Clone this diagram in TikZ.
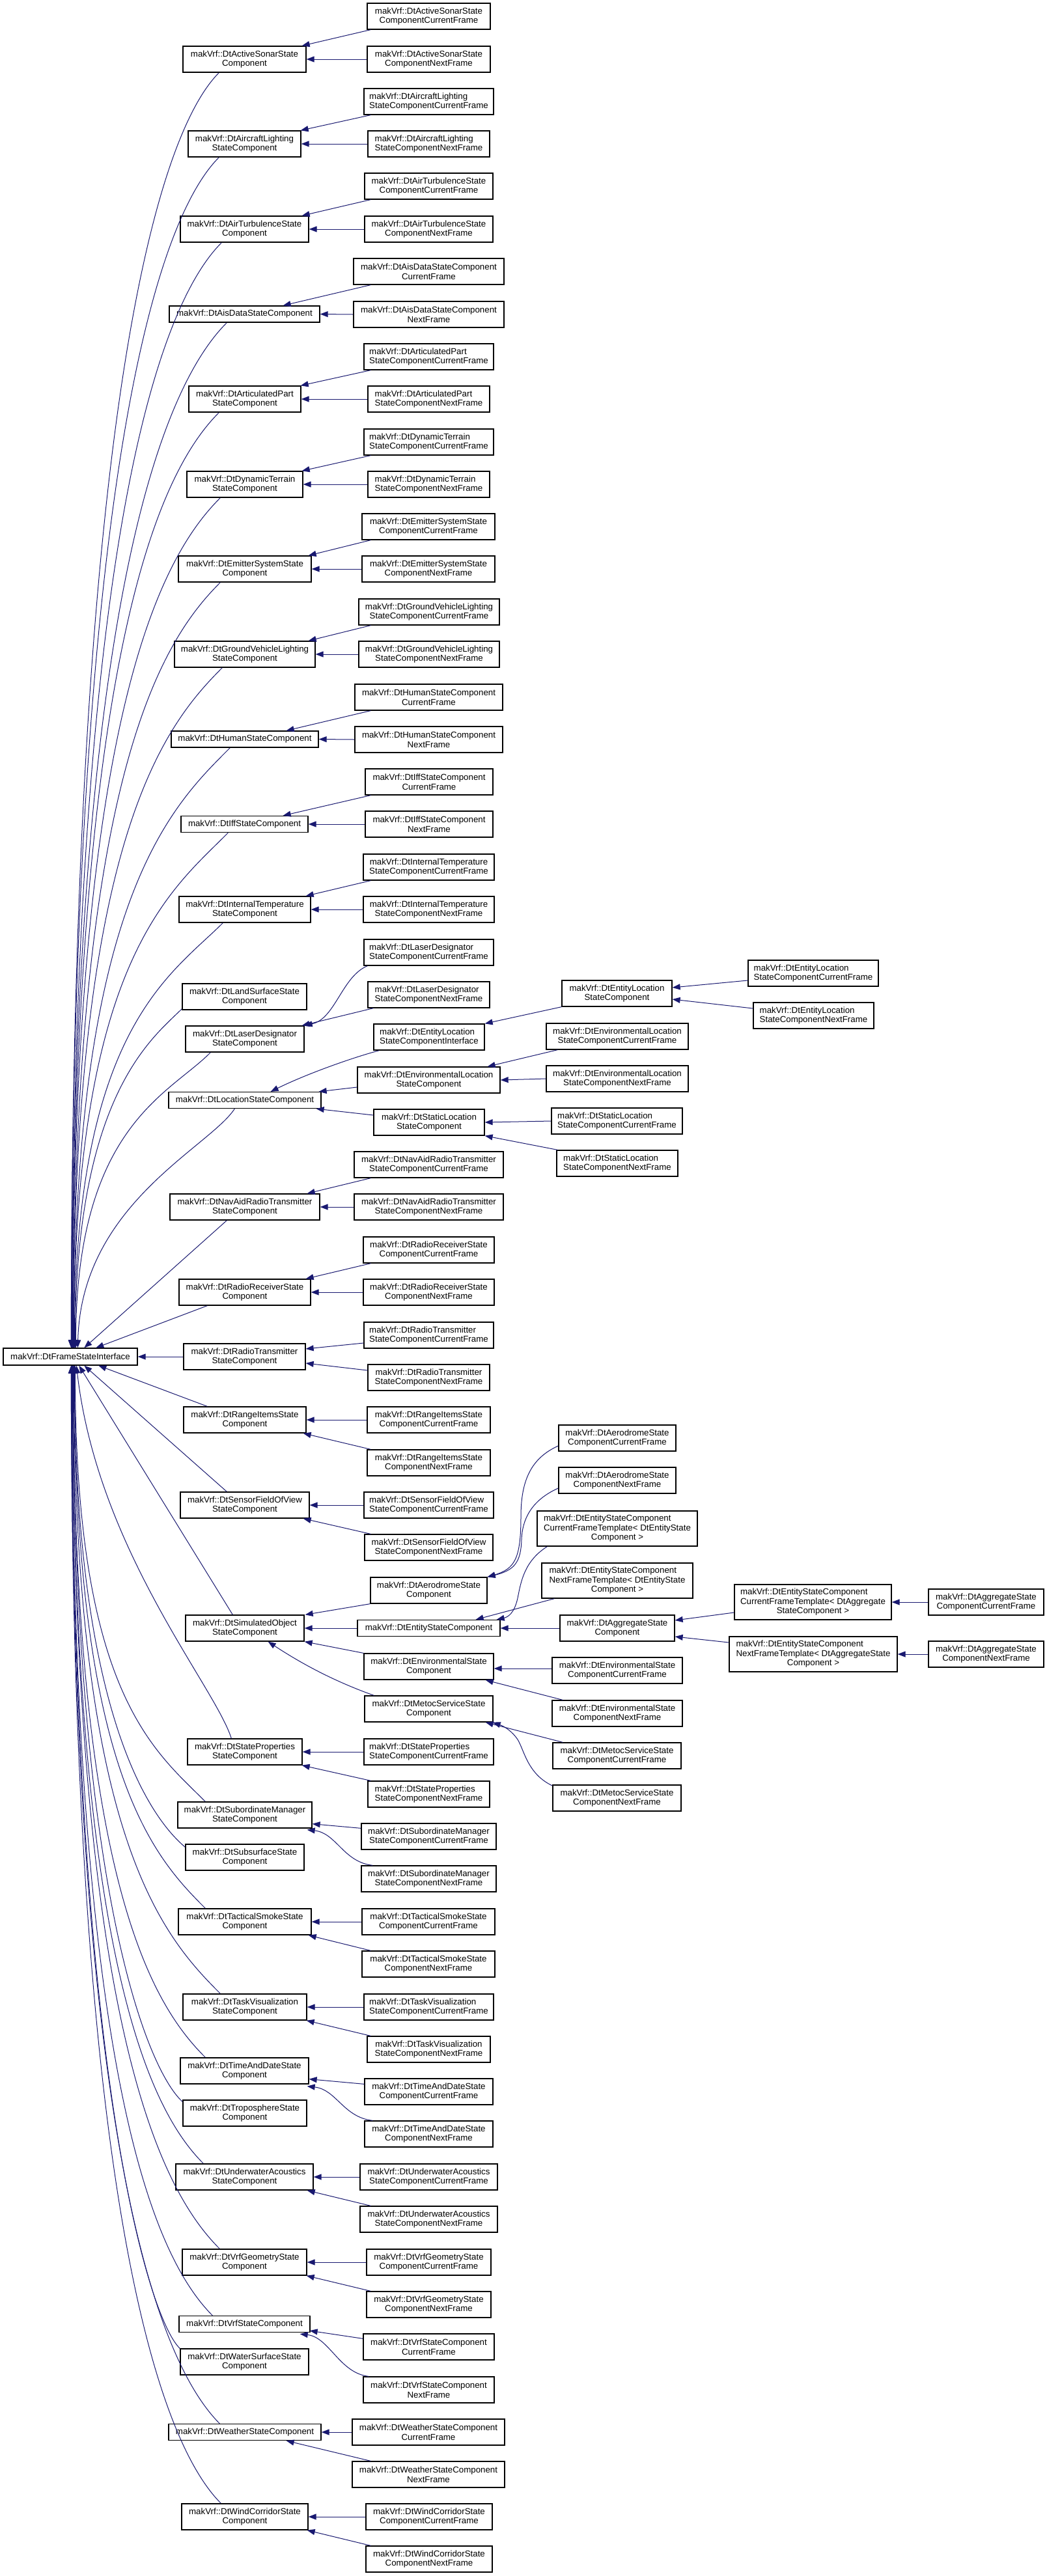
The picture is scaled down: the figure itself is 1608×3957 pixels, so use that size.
\documentclass[tikz,border=0pt]{standalone}
\usepackage{fontspec}
\setmainfont{Liberation Sans}
\usetikzlibrary{arrows.meta,calc}
\definecolor{dxnavy}{HTML}{191970}
\newcommand\mknode[6]{\pgfmathsetmacro\ndw{#3-#2}\pgfmathsetmacro\ndx{(#2+#3)/2}\node[box,minimum width=\ndw pt,minimum height=#5pt] (#1) at (\ndx,#4) {#6};}
\newcommand\lft[2]{\rlap{#1}\phantom{#2}\\#2}
\newcommand\eA[5]{\draw[edge] ([xshift=#4pt]#2.south west) -- ([xshift=#5pt]#1.north east);
 \draw[edge] (#3.west) -- (#1.east);}
\newcommand\eC[5]{\draw[edge] (#2.west) -- (#1.east);
 \draw[edge] ([xshift=#4pt]#3.north west) -- ([xshift=#5pt]#1.south east);}
\begin{document}
\begin{tikzpicture}[x=1pt,y=-1pt,
 box/.style={draw=black,line width=1.3pt,fill=white,align=center,inner sep=0pt,font=\fontsize{13.3}{14.5}\selectfont},
 edge/.style={draw=dxnavy,line width=1pt,-{Triangle[length=12pt,width=9pt,color=dxnavy]}}]
\useasboundingbox (0,0) rectangle (1608,3957);
% root
\mknode{R}{5}{211}{2084}{26}{makVrf::DtFrameStateInterface}
% column 1
\mknode{AS}{281}{470}{91}{40}{makVrf::DtActiveSonarState\\Component}
\mknode{AL}{289}{462}{221}{40}{makVrf::DtAircraftLighting\\StateComponent}
\mknode{AT}{277}{474}{352}{40}{makVrf::DtAirTurbulenceState\\Component}
\mknode{AD}{260}{491}{482.5}{25}{makVrf::DtAisDataStateComponent}
\mknode{AP}{290}{462}{613}{40}{makVrf::DtArticulatedPart\\StateComponent}
\mknode{DT}{287}{465}{744}{40}{makVrf::DtDynamicTerrain\\StateComponent}
\mknode{ES}{274}{478}{874}{40}{makVrf::DtEmitterSystemState\\Component}
\mknode{GV}{268}{484}{1005}{40}{makVrf::DtGroundVehicleLighting\\StateComponent}
\mknode{HU}{263}{489}{1135.5}{25}{makVrf::DtHumanStateComponent}
\mknode{IF}{278}{473}{1266}{25}{makVrf::DtIffStateComponent}
\mknode{IT}{275}{477}{1397}{40}{makVrf::DtInternalTemperature\\StateComponent}
\mknode{LS}{280}{471}{1531}{40}{makVrf::DtLandSurfaceState\\Component}
\mknode{LD}{285}{467}{1596}{40}{makVrf::DtLaserDesignator\\StateComponent}
\mknode{LO}{259}{493}{1690}{25}{makVrf::DtLocationStateComponent}
\mknode{NA}{261}{491}{1854}{40}{makVrf::DtNavAidRadioTransmitter\\StateComponent}
\mknode{RR}{275}{477}{1985}{40}{makVrf::DtRadioReceiverState\\Component}
\mknode{RT}{282}{469}{2084}{40}{makVrf::DtRadioTransmitter\\StateComponent}
\mknode{RI}{282}{470}{2181}{40}{makVrf::DtRangeItemsState\\Component}
\mknode{SF}{277}{475}{2312}{40}{makVrf::DtSensorFieldOfView\\StateComponent}
\mknode{SO}{285}{467}{2501}{40}{makVrf::DtSimulatedObject\\StateComponent}
\mknode{SP}{288}{464}{2691}{40}{makVrf::DtStateProperties\\StateComponent}
\mknode{SM}{273}{479}{2788}{40}{makVrf::DtSubordinateManager\\StateComponent}
\mknode{SS}{285}{467}{2853}{40}{makVrf::DtSubsurfaceState\\Component}
\mknode{TS}{274}{478}{2952}{40}{makVrf::DtTacticalSmokeState\\Component}
\mknode{TV}{281}{471}{3083}{40}{makVrf::DtTaskVisualization\\StateComponent}
\mknode{TD}{277}{474}{3181}{40}{makVrf::DtTimeAndDateState\\Component}
\mknode{TR}{281}{471}{3246}{40}{makVrf::DtTroposphereState\\Component}
\mknode{UA}{270}{481}{3344}{40}{makVrf::DtUnderwaterAcoustics\\StateComponent}
\mknode{VG}{280}{471}{3475}{40}{makVrf::DtVrfGeometryState\\Component}
\mknode{VS}{275}{476}{3570}{25}{makVrf::DtVrfStateComponent}
\mknode{WS}{277}{474}{3628}{40}{makVrf::DtWaterSurfaceState\\Component}
\mknode{WE}{259}{493}{3736}{25}{makVrf::DtWeatherStateComponent}
\mknode{WC}{279}{473}{3866}{40}{makVrf::DtWindCorridorState\\Component}
% column 2
\mknode{ASc}{564}{753}{25}{40}{makVrf::DtActiveSonarState\\ComponentCurrentFrame}
\mknode{ASn}{564}{753}{91}{40}{makVrf::DtActiveSonarState\\ComponentNextFrame}
\mknode{ALc}{559}{758}{156}{40}{\lft{makVrf::DtAircraftLighting}{StateComponentCurrentFrame}}
\mknode{ALn}{565}{752}{221}{40}{\lft{makVrf::DtAircraftLighting}{StateComponentNextFrame}}
\mknode{ATc}{560}{757}{286}{40}{makVrf::DtAirTurbulenceState\\ComponentCurrentFrame}
\mknode{ATn}{560}{757}{352}{40}{makVrf::DtAirTurbulenceState\\ComponentNextFrame}
\mknode{ADc}{543}{774}{417}{40}{makVrf::DtAisDataStateComponent\\CurrentFrame}
\mknode{ADn}{543}{774}{483}{40}{makVrf::DtAisDataStateComponent\\NextFrame}
\mknode{APc}{559}{758}{548}{40}{\lft{makVrf::DtArticulatedPart}{StateComponentCurrentFrame}}
\mknode{APn}{565}{752}{613}{40}{\lft{makVrf::DtArticulatedPart}{StateComponentNextFrame}}
\mknode{DTc}{559}{758}{679}{40}{\lft{makVrf::DtDynamicTerrain}{StateComponentCurrentFrame}}
\mknode{DTn}{565}{752}{744}{40}{\lft{makVrf::DtDynamicTerrain}{StateComponentNextFrame}}
\mknode{ESc}{556}{760}{809}{40}{makVrf::DtEmitterSystemState\\ComponentCurrentFrame}
\mknode{ESn}{556}{760}{874}{40}{makVrf::DtEmitterSystemState\\ComponentNextFrame}
\mknode{GVc}{551}{767}{940}{40}{makVrf::DtGroundVehicleLighting\\StateComponentCurrentFrame}
\mknode{GVn}{551}{767}{1005}{40}{makVrf::DtGroundVehicleLighting\\StateComponentNextFrame}
\mknode{HUc}{545}{772}{1071}{40}{makVrf::DtHumanStateComponent\\CurrentFrame}
\mknode{HUn}{545}{772}{1136}{40}{makVrf::DtHumanStateComponent\\NextFrame}
\mknode{IFc}{561}{757}{1201}{40}{makVrf::DtIffStateComponent\\CurrentFrame}
\mknode{IFn}{561}{757}{1266}{40}{makVrf::DtIffStateComponent\\NextFrame}
\mknode{ITc}{558}{759}{1332}{40}{makVrf::DtInternalTemperature\\StateComponentCurrentFrame}
\mknode{ITn}{558}{759}{1397}{40}{makVrf::DtInternalTemperature\\StateComponentNextFrame}
\mknode{LDc}{559}{758}{1463}{40}{\lft{makVrf::DtLaserDesignator}{StateComponentCurrentFrame}}
\mknode{LDn}{565}{752}{1528}{40}{\lft{makVrf::DtLaserDesignator}{StateComponentNextFrame}}
\mknode{ELI}{574}{744}{1593}{40}{\lft{makVrf::DtEntityLocation}{StateComponentInterface}}
\mknode{ENL}{549}{768}{1659}{40}{makVrf::DtEnvironmentalLocation\\StateComponent}
\mknode{STL}{574}{744}{1724}{40}{makVrf::DtStaticLocation\\StateComponent}
\mknode{NAc}{544}{773}{1789}{40}{makVrf::DtNavAidRadioTransmitter\\StateComponentCurrentFrame}
\mknode{NAn}{544}{773}{1854}{40}{makVrf::DtNavAidRadioTransmitter\\StateComponentNextFrame}
\mknode{RRc}{558}{759}{1920}{40}{makVrf::DtRadioReceiverState\\ComponentCurrentFrame}
\mknode{RRn}{558}{759}{1985}{40}{makVrf::DtRadioReceiverState\\ComponentNextFrame}
\mknode{RTc}{559}{758}{2051}{40}{\lft{makVrf::DtRadioTransmitter}{StateComponentCurrentFrame}}
\mknode{RTn}{565}{752}{2116}{40}{makVrf::DtRadioTransmitter\\StateComponentNextFrame}
\mknode{RIc}{564}{753}{2181}{40}{makVrf::DtRangeItemsState\\ComponentCurrentFrame}
\mknode{RIn}{564}{753}{2247}{40}{makVrf::DtRangeItemsState\\ComponentNextFrame}
\mknode{SFc}{559}{758}{2312}{40}{\lft{makVrf::DtSensorFieldOfView}{StateComponentCurrentFrame}}
\mknode{SFn}{560}{757}{2377}{40}{makVrf::DtSensorFieldOfView\\StateComponentNextFrame}
\mknode{AE}{569}{748}{2443}{40}{makVrf::DtAerodromeState\\Component}
\mknode{EST}{549}{768}{2501}{25}{makVrf::DtEntityStateComponent}
\mknode{ENS}{559}{758}{2560}{40}{makVrf::DtEnvironmentalState\\Component}
\mknode{MS}{560}{757}{2625}{40}{makVrf::DtMetocServiceState\\Component}
\mknode{SPc}{559}{758}{2691}{40}{\lft{makVrf::DtStateProperties}{StateComponentCurrentFrame}}
\mknode{SPn}{565}{752}{2756}{40}{\lft{makVrf::DtStateProperties}{StateComponentNextFrame}}
\mknode{SMc}{555}{762}{2821}{40}{makVrf::DtSubordinateManager\\StateComponentCurrentFrame}
\mknode{SMn}{555}{762}{2886}{40}{makVrf::DtSubordinateManager\\StateComponentNextFrame}
\mknode{TSc}{556}{760}{2952}{40}{makVrf::DtTacticalSmokeState\\ComponentCurrentFrame}
\mknode{TSn}{556}{760}{3017}{40}{makVrf::DtTacticalSmokeState\\ComponentNextFrame}
\mknode{TVc}{559}{758}{3083}{40}{\lft{makVrf::DtTaskVisualization}{StateComponentCurrentFrame}}
\mknode{TVn}{564}{753}{3148}{40}{makVrf::DtTaskVisualization\\StateComponentNextFrame}
\mknode{TDc}{560}{757}{3213}{40}{makVrf::DtTimeAndDateState\\ComponentCurrentFrame}
\mknode{TDn}{560}{757}{3278}{40}{makVrf::DtTimeAndDateState\\ComponentNextFrame}
\mknode{UAc}{553}{764}{3344}{40}{makVrf::DtUnderwaterAcoustics\\StateComponentCurrentFrame}
\mknode{UAn}{553}{764}{3409}{40}{makVrf::DtUnderwaterAcoustics\\StateComponentNextFrame}
\mknode{VGc}{563}{754}{3475}{40}{makVrf::DtVrfGeometryState\\ComponentCurrentFrame}
\mknode{VGn}{563}{754}{3540}{40}{makVrf::DtVrfGeometryState\\ComponentNextFrame}
\mknode{VSc}{558}{759}{3605}{40}{makVrf::DtVrfStateComponent\\CurrentFrame}
\mknode{VSn}{558}{759}{3671}{40}{makVrf::DtVrfStateComponent\\NextFrame}
\mknode{WEc}{541}{775}{3736}{40}{makVrf::DtWeatherStateComponent\\CurrentFrame}
\mknode{WEn}{541}{775}{3801}{40}{makVrf::DtWeatherStateComponent\\NextFrame}
\mknode{WCc}{562}{756}{3866}{40}{makVrf::DtWindCorridorState\\ComponentCurrentFrame}
\mknode{WCn}{562}{756}{3931}{40}{makVrf::DtWindCorridorState\\ComponentNextFrame}
% column 3
\mknode{ELS}{863}{1032}{1526}{40}{makVrf::DtEntityLocation\\StateComponent}
\mknode{ENLc}{839}{1057}{1592}{40}{makVrf::DtEnvironmentalLocation\\StateComponentCurrentFrame}
\mknode{ENLn}{839}{1057}{1657}{40}{makVrf::DtEnvironmentalLocation\\StateComponentNextFrame}
\mknode{STLc}{847}{1048}{1722}{40}{\lft{makVrf::DtStaticLocation}{StateComponentCurrentFrame}}
\mknode{STLn}{855}{1041}{1787}{40}{\lft{makVrf::DtStaticLocation}{StateComponentNextFrame}}
\mknode{AEc}{858}{1038}{2209}{40}{makVrf::DtAerodromeState\\ComponentCurrentFrame}
\mknode{AEn}{858}{1038}{2274}{40}{makVrf::DtAerodromeState\\ComponentNextFrame}
\mknode{ESCT}{825}{1071}{2348}{54}{\lft{makVrf::DtEntityStateComponent}{CurrentFrameTemplate< DtEntityState}\\Component >}
\mknode{ESNT}{832}{1064}{2428}{54}{\lft{makVrf::DtEntityStateComponent}{NextFrameTemplate< DtEntityState}\\Component >}
\mknode{AG}{860}{1036}{2501}{40}{makVrf::DtAggregateState\\Component}
\mknode{ENSc}{848}{1048}{2566}{40}{makVrf::DtEnvironmentalState\\ComponentCurrentFrame}
\mknode{ENSn}{848}{1048}{2632}{40}{makVrf::DtEnvironmentalState\\ComponentNextFrame}
\mknode{MSc}{849}{1046}{2697}{40}{makVrf::DtMetocServiceState\\ComponentCurrentFrame}
\mknode{MSn}{849}{1046}{2762}{40}{makVrf::DtMetocServiceState\\ComponentNextFrame}
% column 4
\mknode{ELc}{1149}{1349}{1495}{40}{\lft{makVrf::DtEntityLocation}{StateComponentCurrentFrame}}
\mknode{ELn}{1157}{1342}{1560}{40}{\lft{makVrf::DtEntityLocation}{StateComponentNextFrame}}
\mknode{AGCT}{1128}{1369}{2461}{54}{\lft{makVrf::DtEntityStateComponent}{CurrentFrameTemplate< DtAggregate}\\StateComponent >}
\mknode{AGNT}{1120}{1378}{2541}{54}{\lft{makVrf::DtEntityStateComponent}{NextFrameTemplate< DtAggregateState}\\Component >}
% column 5
\mknode{AGc}{1426}{1603}{2461}{40}{makVrf::DtAggregateState\\ComponentCurrentFrame}
\mknode{AGn}{1426}{1603}{2541}{40}{makVrf::DtAggregateState\\ComponentNextFrame}

% ---- edges between column 1 and column 2
\eA{AS}{ASc}{ASn}{6}{-7}
\eA{AL}{ALc}{ALn}{11}{-1}
\eA{AT}{ATc}{ATn}{10}{-11}
\eA{AD}{ADc}{ADn}{27}{-57}
\eA{AP}{APc}{APn}{11}{-1}
\eA{DT}{DTc}{DTn}{11}{-2}
\eA{ES}{ESc}{ESn}{14}{-5}
\eA{GV}{GVc}{GVn}{19}{-11}
\eA{HU}{HUc}{HUn}{25}{-50}
\eA{IF}{IFc}{IFn}{9}{-39}
\eA{IT}{ITc}{ITn}{12}{-8}
\eA{NA}{NAc}{NAn}{26}{-20}
\eA{RR}{RRc}{RRn}{12}{-8}
\eC{RI}{RIc}{RIn}{6}{-5}
\eC{SF}{SFc}{SFn}{10}{-10}
\eC{SP}{SPc}{SPn}{5}{-1}
\eC{TS}{TSc}{TSn}{14}{-5}
\eC{TV}{TVc}{TVn}{6}{-1}
\eC{UA}{UAc}{UAn}{17}{-10}
\eC{VG}{VGc}{VGn}{7}{-1}
\eC{WC}{WCc}{WCn}{8}{-2}
\eC{WE}{WEc}{WEn}{29}{-54}
\draw[edge] ([yshift=-12pt]RTc.west) -- ([yshift=12pt]RT.east);
\draw[edge] ([yshift=11pt]RTn.west) -- ([yshift=-10pt]RT.east);
\draw[edge] ([yshift=-8pt]SMc.north west) -- ([yshift=7pt]SM.south east);
\draw[edge] ([xshift=18pt]SMn.north west) .. controls +(-45,-5) and +(45,5) .. ([xshift=-8pt,yshift=-2pt]SM.south east);
\draw[edge] ([yshift=-9pt]TDc.north west) -- ([yshift=8pt]TD.south east);
\draw[edge] ([xshift=13pt]TDn.north west) .. controls +(-45,-5) and +(45,5) .. ([xshift=-3pt,yshift=-3pt]TD.south east);
\draw[edge] ([yshift=-8pt]VSc.north west) -- ([xshift=-1pt,yshift=3pt]VS.south east);
\draw[edge] ([xshift=9pt]VSn.north west) .. controls +(-45,-5) and +(45,5) .. ([xshift=-16pt,yshift=-2pt]VS.south east);
\draw[edge] ([xshift=6pt]LDc.south west) .. controls (525,1500) and (515,1565) .. (LD.north east);
\draw[edge] ([xshift=9pt]LDn.south west) -- ([xshift=-4pt]LD.north east);
% location sub-tree
\draw[edge] ([xshift=9pt]ELI.south west) .. controls (540,1625) and (470,1650) .. ([xshift=-78pt]LO.north east);
\draw[edge] ([yshift=-11pt]ENL.west) -- ([xshift=-4pt]LO.north east);
\draw[edge] ([yshift=11pt]STL.west) -- ([xshift=-8pt]LO.south east);
\draw[edge] (ELS.south west) -- (ELI.north east);
\draw[edge] ([yshift=-11pt]ELc.west) -- ([yshift=9pt]ELS.east);
\draw[edge] ([yshift=11pt]ELn.west) -- ([yshift=-9pt]ELS.east);
\draw[edge] ([xshift=18pt]ENLc.south west) -- ([xshift=-20pt]ENL.north east);
\draw[edge] (ENLn.west) -- (ENL.east);
\draw[edge] (STLc.west) -- (STL.east);
\draw[edge] ([xshift=2pt]STLn.north west) -- (STL.south east);
% simulated object sub-tree
\draw[edge] (AE.south west) -- ([xshift=1pt]SO.north east);
\draw[edge] (EST.west) -- (SO.east);
\draw[edge] (ENS.north west) -- (SO.south east);
\draw[edge] ([xshift=15pt]MS.north west) .. controls (520,2585) and (470,2560) .. ([xshift=-56pt]SO.south east);
\draw[edge] ([yshift=-12pt]AEc.west) .. controls (815,2240) and (800,2275) .. (800,2330) .. controls (800,2395) and (790,2410) .. (AE.north east);
\draw[edge] ([yshift=-12pt]AEn.west) .. controls (815,2305) and (802,2335) .. (801,2365) .. controls (800,2400) and (790,2412) .. (AE.north east);
\draw[edge] ([xshift=16pt]ESCT.south west) .. controls (805,2398) and (800,2430) .. (795,2455) .. controls (790,2478) and (780,2484) .. ([xshift=-6pt]EST.north east);
\draw[edge] ([xshift=20pt]ESNT.south west) -- ([xshift=-38pt]EST.north east);
\draw[edge] (AG.west) -- (EST.east);
\draw[edge] ([yshift=-16pt]AGCT.west) -- ([yshift=12pt]AG.east);
\draw[edge] ([yshift=18pt]AGNT.west) -- ([yshift=-13pt]AG.east);
\draw[edge] (AGc.west) -- (AGCT.east);
\draw[edge] (AGn.west) -- (AGNT.east);
\draw[edge] ([yshift=3pt]ENSc.west) -- ([yshift=-3pt]ENS.east);
\draw[edge] ([xshift=17pt]ENSn.north west) -- ([xshift=-13pt]ENS.south east);
\draw[edge] ([xshift=16pt]MSc.north west) -- ([xshift=-12pt]MS.south east);
\draw[edge] ([yshift=19pt]MSn.west) .. controls (810,2725) and (805,2688) .. (795,2672) .. controls (787,2660) and (775,2652) .. ([xshift=-1pt]MS.south east);
% ---- edges into the root
\draw[edge] (RT.west) -- (R.east);
\draw[edge] ([xshift=56pt]AS.south west) .. controls (247,201) and (110,601) .. ([xshift=105pt]R.north west);
\draw[edge] ([xshift=48pt]AL.south west) .. controls (247,331) and (110,698) .. ([xshift=105pt]R.north west);
\draw[edge] ([xshift=64pt]AT.south west) .. controls (251,462) and (111,797) .. ([xshift=106pt]R.north west);
\draw[edge] ([xshift=89pt]AD.south west) .. controls (259,585) and (111,889) .. ([xshift=106pt]R.north west);
\draw[edge] ([xshift=47pt]AP.south west) .. controls (247,723) and (112,993) .. ([xshift=107pt]R.north west);
\draw[edge] ([xshift=52pt]DT.south west) .. controls (249,854) and (112,1091) .. ([xshift=107pt]R.north west);
\draw[edge] ([xshift=65pt]ES.south west) .. controls (249,984) and (113,1188) .. ([xshift=108pt]R.north west);
\draw[edge] ([xshift=74pt]GV.south west) .. controls (252,1115) and (113,1287) .. ([xshift=108pt]R.north west);
\draw[edge] ([xshift=91pt]HU.south west) .. controls (264,1238) and (114,1379) .. ([xshift=109pt]R.north west);
\draw[edge] ([xshift=73pt]IF.south west) .. controls (261,1369) and (114,1477) .. ([xshift=109pt]R.north west);
\draw[edge] ([xshift=68pt]IT.south west) .. controls (263,1497) and (115,1580) .. ([xshift=110pt]R.north west);
\draw[edge] ([yshift=2pt]LS.south west) .. controls (235,1594) and (116,1680) .. ([xshift=111pt]R.north west);
\draw[edge] ([xshift=39pt]LD.south west) .. controls (260,1681) and (117,1730) .. ([xshift=112pt]R.north west);
\draw[edge] ([xshift=102pt]LO.south west) .. controls (321,1763) and (125,1850) .. ([xshift=115pt]R.north west);
\draw[edge] ([xshift=88pt]NA.south west) -- ([xshift=125pt]R.north west);
\draw[edge] ([xshift=44pt]RR.south west) -- ([xshift=143pt]R.north west);
\draw[edge] ([xshift=37pt]RI.north west) -- ([xshift=147pt]R.south west);
\draw[edge] ([xshift=72pt]SF.north west) -- ([xshift=125pt]R.south west);
\draw[edge] ([xshift=73pt]SO.north west) -- ([xshift=117pt]R.south west);
\draw[edge] ([xshift=68pt]SP.north west) .. controls (330,2590) and (150,2380) .. ([xshift=113pt]R.south west);
\draw[edge] ([xshift=43pt]SM.north west) .. controls (236,2688) and (116,2600) .. ([xshift=111pt]R.south west);
\draw[edge] ([yshift=-5pt]SS.north west) .. controls (240,2800) and (115,2653) .. ([xshift=110pt]R.south west);
\draw[edge] ([xshift=42pt]TS.north west) .. controls (236,2852) and (115,2723) .. ([xshift=110pt]R.south west);
\draw[edge] ([xshift=58pt]TV.north west) .. controls (249,2973) and (114,2822) .. ([xshift=109pt]R.south west);
\draw[edge] ([xshift=39pt]TD.north west) .. controls (236,3081) and (113,2895) .. ([xshift=108pt]R.south west);
\draw[edge] ([yshift=-3pt]TR.north west) .. controls (236,3190) and (113,2946) .. ([xshift=108pt]R.south west);
\draw[edge] ([xshift=43pt]UA.north west) .. controls (233,3244) and (112,3017) .. ([xshift=107pt]R.south west);
\draw[edge] ([xshift=58pt]VG.north west) .. controls (248,3365) and (112,3116) .. ([xshift=107pt]R.south west);
\draw[edge] ([xshift=52pt]VS.north west) .. controls (237,3467) and (111,3192) .. ([xshift=106pt]R.south west);
\draw[edge] (WS.north west) .. controls (235,3570) and (111,3230) .. ([xshift=106pt]R.south west);
\draw[edge] ([xshift=79pt]WE.north west) .. controls (248,3633) and (110,3317) .. ([xshift=105pt]R.south west);
\draw[edge] ([xshift=61pt]WC.north west) .. controls (250,3756) and (110,3409) .. ([xshift=105pt]R.south west);
\end{tikzpicture}
\end{document}
